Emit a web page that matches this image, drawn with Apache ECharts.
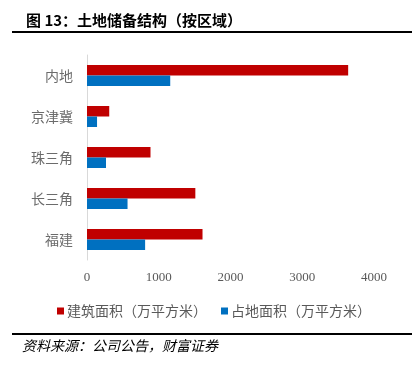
<!DOCTYPE html>
<html>
<head>
<meta charset="utf-8">
<script src="https://cdn.jsdelivr.net/npm/echarts@6/dist/echarts.min.js"></script>
<style>
  html, body { margin: 0; padding: 0; background: #fff; }
  #main { width: 420px; height: 366px; }
</style>
</head>
<body>
<div id="main"></div>
<script>
// 区域
const regions = ['内地', '京津冀', '珠三角', '长三角', '福建'];
// 建筑面积（万平方米）
const buildArea = [3640, 310, 885, 1510, 1610];
// 占地面积（万平方米）
const landArea = [1160, 140, 265, 565, 810];
const xTicks = [0, 1000, 2000, 3000, 4000];

const myChart = echarts.init(document.getElementById('main'));

const option = {
  backgroundColor: '#fff',
  animation: false,
  title: {
    text: '图 13：土地储备结构（按区域）',
    left: 21,
    top: 8,
    textStyle: {
      fontFamily: 'Noto Sans CJK SC',
      fontWeight: 'bold',
      fontSize: 15,
      color: '#000',
    },
  },
  grid: {
    left: 87,
    top: 55,
    width: 287,
    height: 205,
  },
  legend: {
    top: 299,
    left: 52,
    itemWidth: 7,
    itemHeight: 7,
    itemGap: 14,
    icon: 'rect',
    textStyle: {
      fontFamily: 'Noto Sans CJK SC',
      fontSize: 14,
      color: '#595959',
      padding: [0, 0, 0, -2],
    },
    data: ['建筑面积（万平方米）', '占地面积（万平方米）'],
  },
  xAxis: {
    type: 'value',
    min: xTicks[0],
    max: xTicks[xTicks.length - 1],
    interval: 1000,
    axisLine: { show: false },
    axisTick: { show: false },
    splitLine: { show: false },
    axisLabel: {
      margin: 11,
      fontFamily: 'Liberation Serif',
      fontSize: 13,
      color: '#595959',
      formatter: v => String(v),
    },
  },
  yAxis: {
    type: 'category',
    data: regions,
    inverse: true,
    axisLine: { show: true, lineStyle: { color: '#d9d9d9', width: 1 } },
    axisTick: { show: false },
    axisLabel: {
      margin: 14,
      fontFamily: 'Noto Sans CJK SC',
      fontSize: 14,
      color: '#6b6b6b',
    },
  },
  series: [
    {
      name: '建筑面积（万平方米）',
      type: 'bar',
      data: buildArea,
      barWidth: 10.5,
      barGap: '0%',
      itemStyle: { color: '#C00000' },
    },
    {
      name: '占地面积（万平方米）',
      type: 'bar',
      data: landArea,
      barWidth: 10.5,
      barGap: '0%',
      itemStyle: { color: '#0070C0' },
    },
  ],
  graphic: [
    {
      type: 'rect',
      shape: { x: 12, y: 31, width: 400, height: 2 },
      style: { fill: '#000' },
    },
    {
      type: 'rect',
      shape: { x: 12, y: 333, width: 400, height: 2 },
      style: { fill: '#000' },
    },
    {
      type: 'text',
      left: 22,
      top: 339,
      style: {
        text: '资料来源：公司公告，财富证券',
        fontFamily: 'Noto Sans CJK SC',
        fontStyle: 'italic',
        fontSize: 14,
        fill: '#000',
      },
    },
  ],
};

myChart.setOption(option);
</script>
</body>
</html>
